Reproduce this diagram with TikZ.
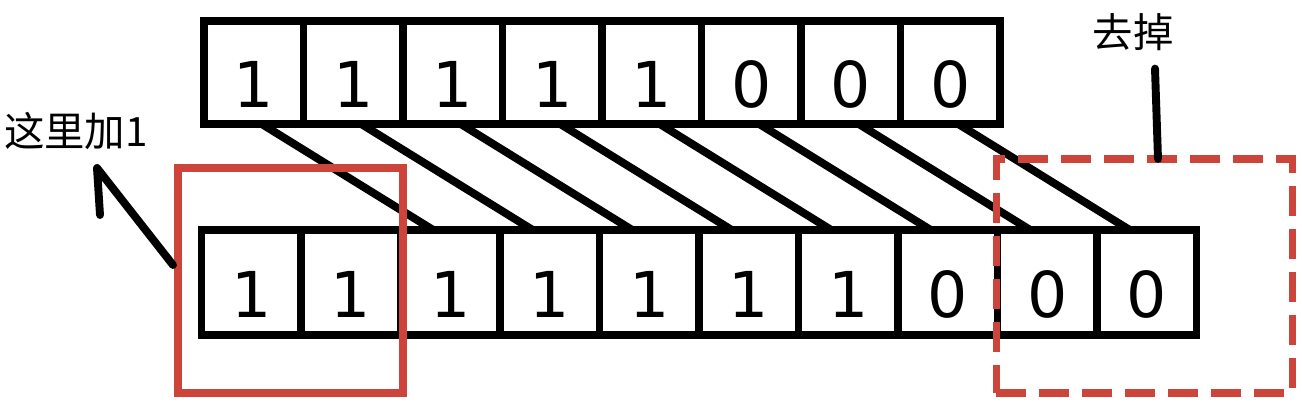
\documentclass[tikz,border=0pt]{standalone}
\usepackage{fontspec}
\setmainfont{DejaVu Sans}
\newfontfamily\cjk{Noto Sans CJK SC}
\definecolor{boxred}{RGB}{204,68,58}
\begin{document}
\begin{tikzpicture}[
  every node/.style={inner sep=0pt,outer sep=0pt},
  cell/.style={draw,line width=4.5pt,minimum width=1.99cm,
    font=\fontsize{36}{40}\selectfont,text height=1.4cm,text depth=0pt},
  pen/.style={line width=4.5pt,line cap=round,line join=round},
  note/.style={font=\cjk\fontsize{23}{27}\selectfont},
  addbox/.style={draw=boxred,line width=4pt,minimum width=4.5cm,minimum height=4.5cm},
  dropbox/.style={addbox,dash pattern=on 0.6cm off 0.26cm,
    minimum width=5.92cm,minimum height=4.68cm}]
\useasboundingbox (0,0) rectangle (26.04,8.16);
% the old number
\foreach \d [count=\i] in {1,1,1,1,1,0,0,0}
  \node[cell,minimum height=2.06cm] (t\i) at ({3.085+1.99*\i},6.71) {\d};
% the shifted number
\foreach \d [count=\i] in {1,1,1,1,1,1,1,0,0,0}
  \node[cell,minimum height=2.1cm] (b\i) at ({3.035+1.99*\i},2.51) {\d};
\foreach \i [count=\j from 3] in {1,...,8}
  \draw[line width=4.5pt] ([xshift=0.16cm]t\i.south) -- ([xshift=-0.34cm]b\j.north);
% marks
\node[addbox] (add) at (5.81,2.55) {};
\node[dropbox] (drop) at (22.88,2.64) {};
\node[note] (plus) at (1.52,5.54) {这里加1};
\node[note] (cut) at (22.66,7.52) {去掉};
\coordinate (tip) at (1.94,4.8);
\coordinate (barb) at (2.0,3.86);
\draw[pen] ([xshift=-0.1cm,yshift=0.31cm]add.west) -- (tip) -- (barb);
\draw[pen] ([xshift=0.44cm,yshift=-0.36cm]cut.south) -- ([xshift=0.28cm]drop.north);
\end{tikzpicture}
\end{document}
